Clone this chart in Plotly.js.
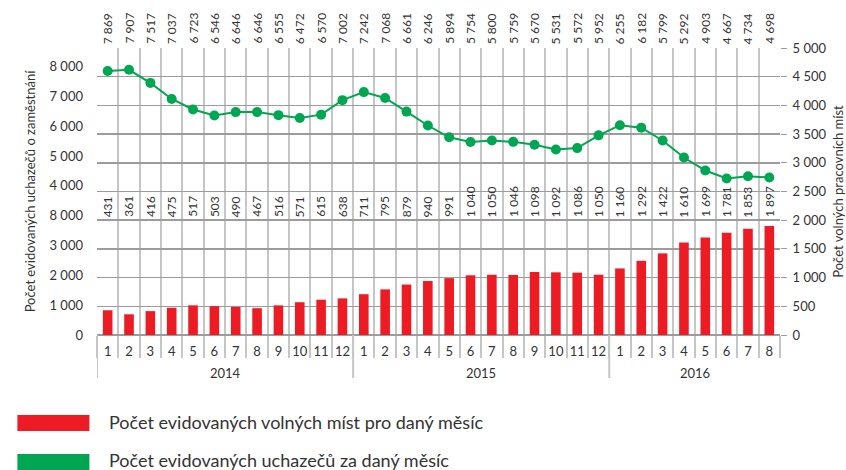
<!DOCTYPE html>
<html><head><meta charset="utf-8">
<script src="https://cdn.plot.ly/plotly-3.0.1.min.js"></script>
<style>html,body{margin:0;padding:0;background:#fff}#chart{width:846px;height:470px}</style>
</head><body><div id="chart"></div>
<script>
// ---- data ----
const yearLabels = ["2014","2014","2014","2014","2014","2014","2014","2014","2014","2014","2014","2014",
  "2015","2015","2015","2015","2015","2015","2015","2015","2015","2015","2015","2015",
  "2016","2016","2016","2016","2016","2016","2016","2016"];
const monthLabels = ["1","2","3","4","5","6","7","8","9","10","11","12",
  "1","2","3","4","5","6","7","8","9","10","11","12",
  "1","2","3","4","5","6","7","8"];
const applicants = [7869,7907,7517,7037,6723,6546,6646,6646,6555,6472,6570,7002,
  7242,7068,6661,6246,5894,5754,5800,5759,5670,5531,5572,5952,
  6255,6182,5799,5292,4903,4667,4734,4698];
const vacancies = [431,361,416,475,517,503,490,467,516,571,615,638,
  711,795,879,940,991,1040,1050,1046,1098,1092,1086,1050,
  1160,1292,1422,1610,1699,1781,1853,1897];
const leftTickText = ["0","1 000","2 000","3 000","8 000","4 000","5 000","6 000","7 000","8 000"];
const seriesNames = ["Počet evidovaných volných míst pro daný měsíc","Počet evidovaných uchazečů za daný měsíc"];
const leftTitle = "Počet evidovaných uchazečů o zaměstnání";
const rightTitle = "Počet volných pracovních míst";

// ---- styling / geometry ----
const RED = "#ED1C24", GREEN = "#00A651", TXT = "#333333";
const GRID_V = "#c6c6c6", GRID_H = "#9c9c9c";
const FONT = "Lato, 'Open Sans', sans-serif";
const W = 846, H = 470, L = 96.6, R = 779.6, T = 48, B = 335;
const pw = R - L, ph = B - T;
const py = px => (B - px) / ph;   // pixel y -> paper y
const pxx = px => (px - L) / pw;  // pixel x -> paper x

const idx = monthLabels.map((_, i) => i);
const bounds = [];
for (let i = 0; i <= monthLabels.length; i++) bounds.push(i - 0.5);
const fmt = n => String(n).replace(/\B(?=(\d{3})+(?!\d))/g, " ");

// left axis: labels spread evenly over 9 steps up to 8000 (as in the source)
const leftTickVals = leftTickText.map((_, k) => k * 8000 / (leftTickText.length - 1));

const traces = [
  {type: "bar", x: idx, y: vacancies, yaxis: "y2", name: seriesNames[0],
   marker: {color: RED}, width: 0.45, hoverinfo: "y"},
  {type: "scatter", mode: "lines+markers", x: idx, y: applicants, yaxis: "y", name: seriesNames[1],
   line: {color: GREEN, width: 2}, marker: {color: GREEN, size: 10}}
];

const annotations = [];
idx.forEach(i => {
  annotations.push({xref: "x", yref: "paper", x: i, y: 1, yanchor: "bottom", xanchor: "center",
    yshift: 2, textangle: -90, text: fmt(applicants[i]), showarrow: false,
    font: {family: FONT, size: 12, color: TXT}});
  annotations.push({xref: "x", yref: "y2", x: i, y: 2000, yanchor: "bottom", xanchor: "center",
    yshift: 1, textangle: -90, text: fmt(vacancies[i]), showarrow: false,
    font: {family: FONT, size: 12, color: TXT}});
});

// year group labels and dividers
const shapes = [];
const groups = [];
yearLabels.forEach((y, i) => {
  if (!groups.length || groups[groups.length - 1].year !== y) groups.push({year: y, start: i, end: i});
  else groups[groups.length - 1].end = i;
});
groups.forEach(g => {
  annotations.push({xref: "x", yref: "paper", x: (g.start + g.end) / 2, y: py(373), yanchor: "middle",
    text: g.year, showarrow: false, font: {family: FONT, size: 13, color: TXT}});
  shapes.push({type: "line", xref: "x", yref: "paper", x0: g.start - 0.5, x1: g.start - 0.5,
    y0: 0, y1: py(378), line: {color: GRID_V, width: 2}});
});

// legend (swatches + labels)
const swatchY = [[415, 431], [454, 470]];
const labelY = [422, 460];
const swatchCol = [RED, GREEN];
seriesNames.forEach((nm, k) => {
  shapes.push({type: "rect", xref: "paper", yref: "paper", x0: pxx(17), x1: pxx(89),
    y0: py(swatchY[k][1]), y1: py(swatchY[k][0]), fillcolor: swatchCol[k], line: {width: 0}});
  annotations.push({xref: "paper", yref: "paper", x: pxx(107), y: py(labelY[k]), xanchor: "left",
    yanchor: "middle", text: nm, showarrow: false, font: {family: FONT, size: 18, color: TXT}});
});

const layout = {
  width: W, height: H,
  margin: {l: L, r: W - R, t: T, b: H - B, pad: 0},
  paper_bgcolor: "#fff", plot_bgcolor: "#fff",
  showlegend: false,
  separators: ", ",
  font: {family: FONT, size: 13, color: TXT},
  xaxis: {
    type: "linear", range: [-0.5, monthLabels.length - 0.5], fixedrange: true,
    tickmode: "array", tickvals: idx, ticktext: monthLabels, ticks: "", ticklabelstandoff: 7,
    showgrid: false, zeroline: false, showline: false,
    tickfont: {family: FONT, size: 13, color: TXT},
    minor: {tickmode: "array", tickvals: bounds, ticks: "outside", ticklen: 22,
      tickwidth: 2, tickcolor: GRID_V, showgrid: true, gridcolor: GRID_V, gridwidth: 2}
  },
  yaxis: {
    range: [0, 8557], tickmode: "array", tickvals: leftTickVals, ticktext: leftTickText,
    showgrid: false, zeroline: false, showline: false, ticks: "", ticklabelstandoff: 13,
    tickfont: {family: FONT, size: 13, color: TXT},
    title: {text: leftTitle, font: {family: FONT, size: 13, color: TXT}, standoff: 10}
  },
  yaxis2: {
    overlaying: "y", side: "right", range: [0, 5000], dtick: 500, tick0: 0,
    showgrid: true, gridcolor: GRID_H, gridwidth: 1.5,
    zeroline: true, zerolinecolor: GRID_H, zerolinewidth: 1.5,
    ticks: "outside", ticklen: 6, tickcolor: GRID_H, separatethousands: true, ticklabelstandoff: 3,
    tickfont: {family: FONT, size: 13, color: TXT},
    title: {text: rightTitle, font: {family: FONT, size: 13, color: TXT}, standoff: 10}
  },
  annotations: annotations,
  shapes: shapes
};

Plotly.newPlot("chart", traces, layout, {displayModeBar: false, staticPlot: true});
</script>
</body></html>
